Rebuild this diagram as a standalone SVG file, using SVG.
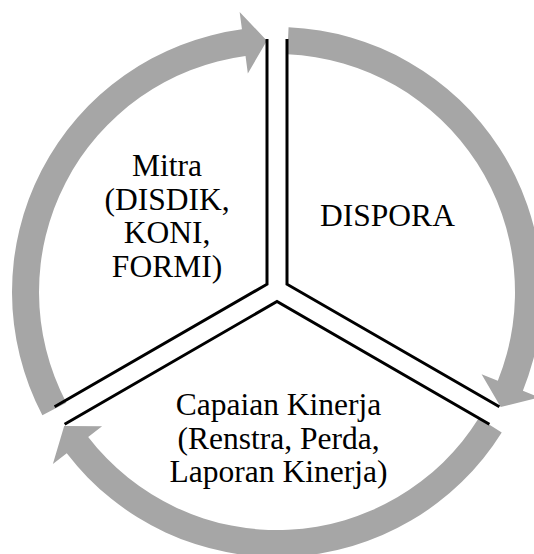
<svg xmlns="http://www.w3.org/2000/svg" width="534" height="554" viewBox="0 0 534 554">
<style>
.arr{fill:#A6A6A6;stroke:none}
.sep{fill:none;stroke:#000;stroke-width:3;stroke-linejoin:miter;stroke-linecap:butt}
.lbl{font-family:"Liberation Serif","Times New Roman",serif;font-size:31.5px;fill:#000;text-anchor:middle}
</style>
<rect width="534" height="554" fill="#fff"/>
<g id="connectors">
<path class="arr" d="M288.56,27.25 A265,265 0 0 1 522.88,390.84 L539.11,397.37 L500.69,406.95 L481.59,374.24 L497.83,380.77 A238,238 0 0 0 287.38,54.23 Z"/>
<path class="arr" d="M501.73,432.43 A265,265 0 0 1 66.76,453.32 L52.88,463.97 L64.18,425.89 L102.07,426.23 L88.18,436.88 A238,238 0 0 0 478.84,418.12 Z"/>
<path class="arr" d="M42.37,415.18 A265,265 0 0 1 241.95,29.33 L239.64,11.98 L266.91,40.70 L247.84,73.44 L245.52,56.09 A238,238 0 0 0 66.28,402.63 Z"/>
</g>
<g id="separators">
<polyline class="sep" points="267,39 267,284.2 54.6,406.8"/>
<polyline class="sep" points="287,39 287,284.2 499.4,406.8"/>
<polyline class="sep" points="64.6,424.2 277,301.5 489.4,424.2"/>
</g>
<g id="node-mitra">
<text class="lbl" x="167" y="176">Mitra</text>
<text class="lbl" x="167" y="209.5">(DISDIK,</text>
<text class="lbl" x="167" y="243">KONI,</text>
<text class="lbl" x="167" y="276.5">FORMI)</text>
</g>
<g id="node-dispora">
<text class="lbl" x="387.5" y="226">DISPORA</text>
</g>
<g id="node-capaian">
<text class="lbl" x="278.5" y="415">Capaian Kinerja</text>
<text class="lbl" x="278.5" y="448.5">(Renstra, Perda,</text>
<text class="lbl" x="278.5" y="482">Laporan Kinerja)</text>
</g>
</svg>
